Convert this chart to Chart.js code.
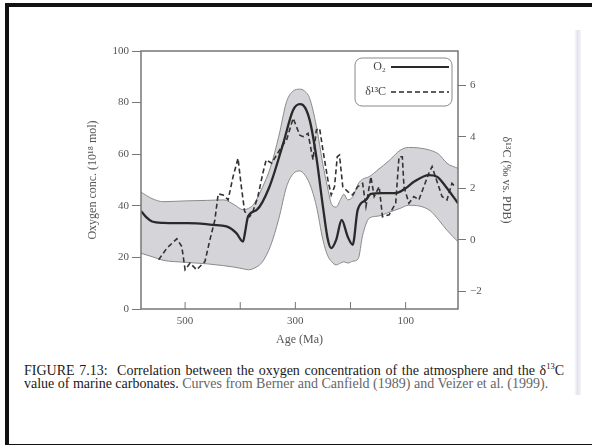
<!DOCTYPE html>
<html>
<head>
<meta charset="utf-8">
<script src="https://cdn.jsdelivr.net/npm/chart.js@4.4.1/dist/chart.umd.min.js"></script>
<style>
  html, body { margin: 0; padding: 0; background: #fff; }
  body { width: 592px; height: 445px; position: relative; overflow: hidden; }
  #frame { position: absolute; left: 5px; top: 3px; width: 600px; height: 437px; border: 4px solid #111; border-right: none; }
  #strip { position: absolute; left: 574px; top: 30px; width: 7px; height: 365px; background: linear-gradient(to right, #fff, #e2e4ec, #f4f4f8); }
  #wrap { position: absolute; left: 0; top: 0; width: 592px; height: 360px; }
  #caption { position: absolute; left: 24px; top: 360px; font-family: "Liberation Serif", serif; font-size: 14px; line-height: 13px; color: #1a1a1a; white-space: nowrap; }
  #caption .w { word-spacing: 1.2px; }
  .dim { color: #666; }
</style>
</head>
<body>
<div id="frame"></div>
<div id="strip"></div>
<div id="wrap"><canvas id="chart"></canvas></div>
<div id="caption"><span class="w">FIGURE 7.13:&nbsp; Correlation between the oxygen concentration of the atmosphere and the δ<sup style="font-size:8.5px">13</sup>C</span><br>value of marine carbonates. <span class="dim">Curves from Berner and Canfield (1989) and Veizer et al. (1999).</span></div>
<script>
// ages in Ma
const o2Age = [580, 570, 560, 540, 500, 479, 450, 425, 407, 395, 391, 386, 370, 347, 322, 304, 292, 286, 274, 262, 250, 241, 235, 226, 216, 205, 196, 187, 172, 163, 142, 118, 100, 85, 58, 43, 27, 5];
const o2Val = [38, 35.5, 33.9, 33.4, 33.3, 33.2, 32.6, 32, 29.4, 26.1, 30, 35.8, 38.4, 47.4, 64.2, 77.1, 79.4, 79, 73.2, 59, 39.7, 26.8, 23.6, 26.8, 34.5, 28, 24.9, 38.4, 42.3, 44.6, 44.9, 44.9, 46.8, 49.3, 51.9, 51.3, 47.4, 41];

const bandAge = [580, 560, 540, 500, 460, 430, 410, 395, 385, 375, 360, 345, 330, 316, 304, 292, 284, 274, 262, 250, 242, 234, 226, 218, 212, 205, 196, 186, 178, 166, 150, 130, 110, 95, 75, 55, 40, 25, 5];
const bandHigh = [45.3, 42.8, 41.6, 41.9, 42.1, 42.3, 40.3, 38.5, 39, 40.8, 47, 55, 67, 80.3, 84.5, 85.2, 84.6, 81.6, 71, 56, 47.5, 40.5, 39.5, 42.5, 44.5, 42.3, 43.5, 48.5, 50.3, 51.3, 54, 57.5, 61.5, 62.6, 62.4, 61.5, 60, 56.5, 54.5];
const bandLow = [21.6, 20.3, 18.9, 18.1, 17.5, 16.8, 16.2, 15.6, 15.2, 15.8, 18.2, 24.5, 35, 47.4, 52.4, 53.5, 52.3, 48.5, 40, 26.8, 21, 18.3, 17.1, 17.8, 18.3, 17.8, 18.5, 19.5, 28.5, 35.2, 36, 37.5, 39, 40.2, 39.9, 38, 34.5, 30.5, 26.1];

const d13cAge = [548, 533, 515, 506, 500, 491, 479, 464, 455, 446, 440, 431, 422, 413, 404, 398, 392, 383, 377, 368, 359, 353, 343, 325, 316, 304, 292, 286, 277, 268, 262, 256, 250, 241, 235, 229, 224, 220, 214, 205, 196, 187, 178, 172, 163, 157, 148, 142, 130, 118, 112, 106, 103, 94, 85, 76, 67, 58, 52, 46, 34, 25, 16, 10];
const d13cVal = [-0.77, -0.32, 0.04, -0.26, -1.16, -0.9, -1.16, -0.84, 0, 0.77, 1.78, 1.74, 1.55, 2.45, 3.16, 2.06, 1.1, 0.9, 1.1, 1.68, 2.58, 3.1, 2.97, 3.61, 3.87, 4.71, 4.06, 4.0, 4.13, 3.1, 4.26, 4.32, 3.48, 2.32, 1.74, 2.06, 3.22, 3.29, 2.06, 1.87, 1.74, 2.06, 2.19, 1.29, 2.45, 1.68, 2.06, 0.9, 0.97, 1.42, 3.22, 3.22, 2.06, 1.42, 1.68, 1.55, 2.06, 2.58, 2.84, 2.45, 1.68, 1.55, 2.19, 2.06];

const ageTicks = [500, 400, 300, 200, 100];
const ageLabels = [500, 300, 100];
const o2Ticks = [0, 20, 40, 60, 80, 100];
const d13cTicks = [-2, 0, 2, 4, 6];

const pts = (xs, ys) => xs.map((x, i) => ({x: x, y: ys[i]}));
const serif = '"Liberation Serif", "Times New Roman", serif';
const grey = '#777';

const framePlugin = {
    id: 'frame',
    afterDatasetsDraw(chart) {
        const {ctx, chartArea: a, scales} = chart;
        ctx.save();
        ctx.strokeStyle = grey;
        ctx.lineWidth = 1.5;
        ctx.strokeRect(a.left, a.top, a.right - a.left, a.bottom - a.top);

        // tick marks on the age axis point inwards
        ctx.lineWidth = 1;
        ageTicks.forEach(v => {
            const x = scales.x.getPixelForValue(v);
            ctx.beginPath();
            ctx.moveTo(x, a.bottom);
            ctx.lineTo(x, a.bottom - 7);
            ctx.stroke();
        });

        // legend box, text sits in front of the line sample
        ctx.strokeStyle = '#888';
        ctx.lineWidth = 1;
        ctx.beginPath();
        ctx.roundRect(355, 58, 97, 48, 7);
        ctx.stroke();
        ctx.fillStyle = '#444';
        ctx.font = '12px ' + serif;
        ctx.textAlign = 'right';
        ctx.textBaseline = 'middle';
        ctx.fillText('O\u2082', 386, 67);
        ctx.fillText('\u03b4\u00b9\u00b3C', 386, 92);
        ctx.strokeStyle = '#2a2a2a';
        ctx.lineWidth = 2;
        ctx.beginPath(); ctx.moveTo(391, 67); ctx.lineTo(449, 67); ctx.stroke();
        ctx.lineWidth = 1.6;
        ctx.setLineDash([5, 3]);
        ctx.beginPath(); ctx.moveTo(391, 92); ctx.lineTo(449, 92); ctx.stroke();
        ctx.restore();
    }
};

new Chart(document.getElementById('chart'), {
    type: 'line',
    data: {
        datasets: [
            {
                label: 'O2',
                data: pts(o2Age, o2Val),
                borderColor: '#2a2a2a',
                borderWidth: 2.3,
                pointRadius: 0,
                cubicInterpolationMode: 'monotone',
                fill: false,
                yAxisID: 'y'
            },
            {
                label: 'd13C',
                data: pts(d13cAge, d13cVal),
                borderColor: '#333',
                borderWidth: 1.6,
                borderDash: [5, 3],
                pointRadius: 0,
                tension: 0,
                fill: false,
                yAxisID: 'y2'
            },
            {
                label: 'band high',
                data: pts(bandAge, bandHigh),
                borderColor: '#8a8a8a',
                borderWidth: 1,
                backgroundColor: '#d5d5d9',
                pointRadius: 0,
                cubicInterpolationMode: 'monotone',
                fill: '+1',
                yAxisID: 'y'
            },
            {
                label: 'band low',
                data: pts(bandAge, bandLow),
                borderColor: '#8a8a8a',
                borderWidth: 1,
                pointRadius: 0,
                cubicInterpolationMode: 'monotone',
                fill: false,
                yAxisID: 'y'
            }
        ]
    },
    options: {
        responsive: true,
        maintainAspectRatio: false,
        animation: false,
        layout: { padding: { top: 51, left: 0, right: 0, bottom: 0 } },
        plugins: {
            legend: { display: false },
            tooltip: { enabled: false },
            filler: { drawTime: 'beforeDatasetsDraw' }
        },
        scales: {
            x: {
                type: 'linear',
                reverse: true,
                min: 5,
                max: 580,
                afterBuildTicks: s => { s.ticks = ageTicks.map(v => ({value: v})); },
                afterFit: s => { s.height = 51; },
                grid: { display: false, drawTicks: false },
                border: { display: false },
                ticks: {
                    padding: 6,
                    color: '#555',
                    font: { family: serif, size: 11 },
                    maxRotation: 0,
                    callback: v => ageLabels.includes(v) ? String(v) : ''
                },
                title: {
                    display: true,
                    text: 'Age (Ma)',
                    color: '#555',
                    font: { family: serif, size: 12 },
                    padding: { top: 0, bottom: 13 }
                }
            },
            y: {
                position: 'left',
                min: 0,
                max: 100,
                afterBuildTicks: s => { s.ticks = o2Ticks.map(v => ({value: v})); },
                afterFit: s => { s.width = 141; },
                grid: { drawOnChartArea: false, drawTicks: true, tickLength: 9, tickColor: grey },
                border: { display: false },
                ticks: { padding: 3, color: '#555', font: { family: serif, size: 11 } },
                title: {
                    display: true,
                    text: 'Oxygen conc. (10\u00b9\u2078 mol)',
                    color: '#555',
                    font: { family: serif, size: 12 },
                    padding: { top: 86, bottom: 0 }
                }
            },
            y2: {
                position: 'right',
                min: -2.68,
                max: 7.32,
                afterBuildTicks: s => { s.ticks = d13cTicks.map(v => ({value: v})); },
                afterFit: s => { s.width = 134; },
                grid: { drawOnChartArea: false, drawTicks: true, tickLength: 8, tickColor: grey },
                border: { display: false },
                ticks: {
                    padding: 4,
                    color: '#555',
                    font: { family: serif, size: 11 },
                    callback: v => String(v).replace('-', '\u2212')
                },
                title: {
                    display: true,
                    text: '\u03b4\u00b9\u00b3C (\u2030 vs. PDB)',
                    color: '#555',
                    font: { family: serif, size: 12 },
                    padding: { top: 79, bottom: 0 }
                }
            }
        }
    },
    plugins: [framePlugin]
});
</script>
</body>
</html>
